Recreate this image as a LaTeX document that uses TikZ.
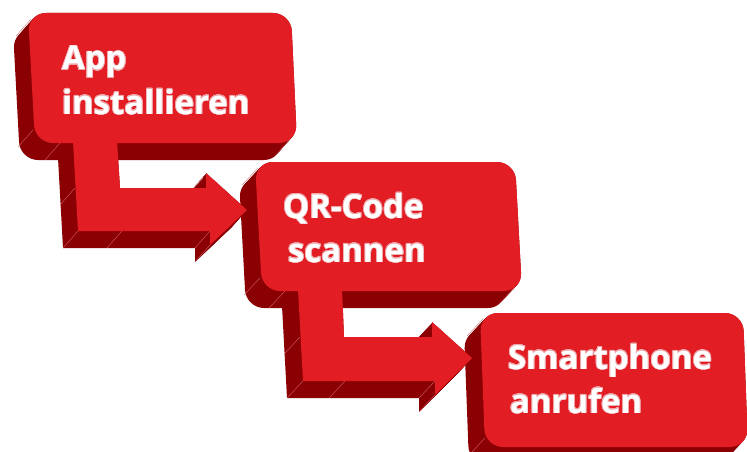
\documentclass[tikz,border=0pt]{standalone}
\usepackage{fontspec}
\setmainfont{Open Sans}
\usepackage{contour}
\contourlength{0.7pt}
\contournumber{24}
\definecolor{frontred}{HTML}{E31D24}
\definecolor{sidered}{HTML}{8A0003}
\definecolor{edgeline}{HTML}{D46A72}
\definecolor{textedge}{HTML}{EDA6AA}
\newcommand\outlined[1]{\contour{textedge}{\textcolor{white}{#1}}}
\tikzset{
  boxone/.style={insert path={(160,13) -- (291,13) -- (297,143) -- (35,143) -- (28,13) -- cycle}},
  arrowone/.style={insert path={(73,141) -- (117,141) -- (120,188) -- (206,188) -- (206,173) -- (247,210) -- (210,245) -- (210,231) -- (78,231) -- cycle}},
  boxtwo/.style={insert path={(385,162) -- (515,162) -- (522,291) -- (262,291) -- (255,162) -- cycle}},
  arrowtwo/.style={insert path={(298,289) -- (342,289) -- (344,337) -- (432,337) -- (432,322) -- (472,358) -- (435,395) -- (435,381) -- (303,381) -- cycle}},
  boxthree/.style={insert path={(610,313) -- (743,313) -- (748,447) -- (485,447) -- (480,313) -- cycle}},
  facet/.style={edgeline, line width=0.35pt},
  label/.style={text=white, font=\fontsize{33}{40}\selectfont\bfseries, anchor=base west, inner sep=0pt, outer sep=0pt}
}
\begin{document}
\begin{tikzpicture}[x=1pt,y=-1pt]
\useasboundingbox (0,0) rectangle (747,452);
% extrusions
\foreach \i in {0,...,16}{
  \fill[sidered, shift={(-15*\i/16,17*\i/16)}, rounded corners=18pt, boxone];
  \fill[sidered, shift={(-15*\i/16,17*\i/16)}, arrowone];
  \fill[sidered, shift={(-16*\i/16,17*\i/16)}, rounded corners=18pt, boxtwo];
  \fill[sidered, shift={(-16*\i/16,17*\i/16)}, arrowtwo];
  \fill[sidered, shift={(-16*\i/16,17*\i/16)}, rounded corners=18pt, boxthree];
}
% facet lines on extrusions
\draw[facet] (31,19) -- ++(-15,17);
\draw[facet] (33,130) -- ++(-15,17);
\draw[facet] (60,143) -- ++(-15,17);
\draw[facet] (290,139) -- ++(-15,17);
\draw[facet] (75,188) -- ++(-15,17);
\draw[facet] (78,231) -- ++(-15,17);
\draw[facet] (122,231) -- ++(-15,17);
\draw[facet] (210,231) -- ++(-15,17);
\draw[facet] (210,245) -- ++(-15,17);
\draw[facet] (258,168) -- ++(-16,17);
\draw[facet] (260,278) -- ++(-16,17);
\draw[facet] (285,291) -- ++(-16,17);
\draw[facet] (515,287) -- ++(-16,17);
\draw[facet] (300,337) -- ++(-16,17);
\draw[facet] (303,381) -- ++(-16,17);
\draw[facet] (345,381) -- ++(-16,17);
\draw[facet] (435,381) -- ++(-16,17);
\draw[facet] (435,395) -- ++(-16,17);
\draw[facet] (483,319) -- ++(-16,17);
\draw[facet] (485,438) -- ++(-16,17);
% front faces
\fill[frontred, rounded corners=18pt, boxone];
\fill[frontred, arrowone];
\fill[frontred, rounded corners=18pt, boxtwo];
\fill[frontred, arrowtwo];
\fill[frontred, rounded corners=18pt, boxthree];
% labels
\node[label] (t1a) at (62,70) {\outlined{App}};
\node[label] (t1b) at (62,114) {\outlined{installieren}};
\node[label] (t2a) at (283,218) {\outlined{QR-Code}};
\node[label] (t2b) at (288,262) {\outlined{scannen}};
\node[label] (t3a) at (508,369) {\outlined{Smartphone}};
\node[label] (t3b) at (510,413) {\outlined{anrufen}};
\end{tikzpicture}
\end{document}
